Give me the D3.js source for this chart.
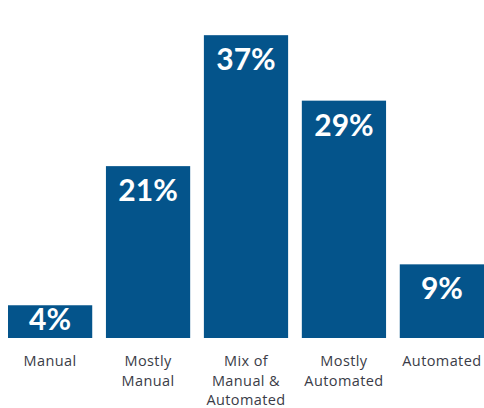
<!DOCTYPE html>
<meta charset="utf-8">
<script src="https://cdn.jsdelivr.net/npm/d3@7"></script>
<style>
body {
  margin: 0;
  background-color: #ffffff;
}
.bar {
  fill: #04548b;
}
.value {
  fill: #ffffff;
  font-family: Lato, "Open Sans", sans-serif;
  font-weight: bold;
  font-size: 30px;
  text-anchor: middle;
}
.cat {
  fill: #3a3c47;
  font-family: "Open Sans", sans-serif;
  font-size: 14.5px;
  letter-spacing: 0.4px;
  text-anchor: middle;
}
</style>
<body>
  <div id="chart"></div>
</body>
<script>
var categories = ["Manual", "Mostly Manual", "Mix of Manual & Automated", "Mostly Automated", "Automated"];
var labelLines = [["Manual"], ["Mostly", "Manual"], ["Mix of", "Manual &", "Automated"], ["Mostly", "Automated"], ["Automated"]];
var values = [4, 21, 37, 29, 9];

var width = 484,
    height = 408,
    baseY = 338;

var svg = d3.select("#chart").append("svg")
            .attr("width", width)
            .attr("height", height);

var x = d3.scaleBand()
          .domain(categories)
          .range([8, 484])
          .paddingInner(0.14)
          .paddingOuter(0);

var y = d3.scaleLinear()
          .domain([0, 38])
          .range([baseY, 27]);

var data = categories.map(function(c, i) {
  return {cat: c, value: values[i], lines: labelLines[i]};
});

svg.selectAll(".bar")
    .data(data)
    .enter().append("rect")
    .attr("class", "bar")
    .attr("x", function(d) { return x(d.cat); })
    .attr("y", function(d) { return y(d.value); })
    .attr("width", x.bandwidth())
    .attr("height", function(d) { return baseY - y(d.value); });

svg.selectAll(".value")
    .data(data)
    .enter().append("text")
    .attr("class", "value")
    .attr("x", function(d) { return x(d.cat) + x.bandwidth() / 2; })
    .attr("y", function(d) { return Math.min(y(d.value) + 35, baseY - 8); })
    .text(function(d) { return d.value + "%"; });

var cats = svg.selectAll(".cat")
    .data(data)
    .enter().append("text")
    .attr("class", "cat")
    .attr("x", function(d) { return x(d.cat) + x.bandwidth() / 2; })
    .attr("y", 366);

cats.selectAll("tspan")
    .data(function(d) { return d.lines.map(function(l) { return {t: l, cx: x(d.cat) + x.bandwidth() / 2}; }); })
    .enter().append("tspan")
    .attr("x", function(l) { return l.cx; })
    .attr("dy", function(l, i) { return i === 0 ? 0 : 19.5; })
    .text(function(l) { return l.t; });
</script>
